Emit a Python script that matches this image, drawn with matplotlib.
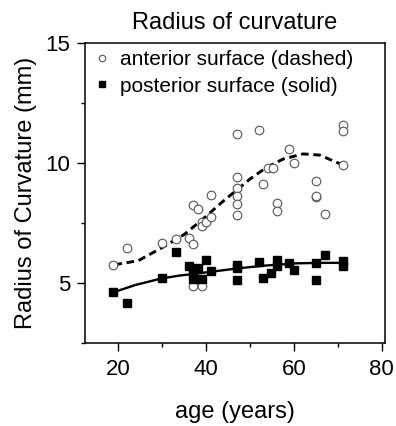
import numpy as np
import matplotlib
matplotlib.use("Agg")
import matplotlib.pyplot as plt
from matplotlib.ticker import MultipleLocator

plt.rcParams['font.family'] = ['Liberation Sans', 'DejaVu Sans']

# anterior surface radius (open circles)
ant_age = [18.9, 22.1, 30.1, 33.1, 36.1, 37.1, 37.1, 37.1, 38.1, 39.0, 39.0,
           39.0, 40.0, 41.1, 41.1, 47.0, 47.0, 47.0, 47.0, 47.0, 47.0, 52.0,
           53.0, 54.2, 55.2, 56.1, 56.1, 58.9, 60.1, 65.0, 65.0, 65.0, 67.1,
           71.1, 71.1, 71.1]
ant_r = [5.75, 6.46, 6.67, 6.83, 6.88, 6.63, 8.25, 4.89, 8.08, 7.55, 7.39,
         4.89, 7.53, 7.74, 8.67, 11.2, 9.43, 8.96, 8.62, 8.29, 7.85, 11.38,
         9.11, 9.78, 9.78, 8.33, 8.01, 10.6, 10.0, 9.26, 8.6, 8.64, 7.87,
         11.58, 11.32, 9.92]

# posterior surface radius (filled squares)
post_age = [18.9, 22.1, 30.1, 33.1, 36.1, 37.1, 38.1, 37.1, 39.0, 40.0, 41.1,
            47.0, 47.0, 47.0, 52.0, 53.0, 54.9, 56.1, 56.1, 58.9, 60.1, 65.0,
            65.0, 67.1, 71.1, 71.1]
post_r = [4.64, 4.17, 5.22, 6.3, 5.69, 5.44, 5.61, 5.17, 5.17, 5.96, 5.51,
          5.75, 5.61, 5.14, 5.86, 5.21, 5.42, 5.96, 5.69, 5.82, 5.55, 5.83,
          5.13, 6.15, 5.93, 5.69]

# fitted curves
ant_fit_age = [19.2, 24.6, 30.3, 35.2, 39.8, 43.6, 47.3, 50.0, 53.8, 57.6,
               62.1, 65.9, 69.7, 71.1]
ant_fit_r = [5.76, 5.93, 6.5, 7.04, 7.74, 8.36, 8.92, 9.33, 9.82, 10.17,
             10.38, 10.33, 10.03, 9.93]
post_fit_age = [18.9, 24.0, 29.9, 34.0, 38.2, 42.5, 47.3, 53.0, 60.6, 66.0, 71.2]
post_fit_r = [4.61, 4.92, 5.19, 5.31, 5.40, 5.50, 5.61, 5.72, 5.82, 5.84, 5.84]

fig = plt.figure(figsize=(3.96, 4.26), dpi=100)
ax = fig.add_axes([0.2146, 0.1948, 0.7574, 0.7042])

ax.plot(ant_fit_age, ant_fit_r, color='black', lw=2.1, ls=(0, (2.6, 1.6)), zorder=2)
ax.plot(post_fit_age, post_fit_r, color='black', lw=1.7, zorder=2)
ax.plot(ant_age, ant_r, 'o', ms=6.2, mfc='white', mec='#555555', mew=0.8,
        label='anterior surface (dashed)', zorder=3)
ax.plot(post_age, post_r, 's', ms=5.8, color='black',
        label='posterior surface (solid)', zorder=4)

ax.set_xlim(12.5, 80.7)
ax.set_ylim(2.5, 15)
ax.xaxis.set_major_locator(MultipleLocator(20))
ax.xaxis.set_minor_locator(MultipleLocator(10))
ax.yaxis.set_major_locator(MultipleLocator(5))
ax.yaxis.set_minor_locator(MultipleLocator(2.5))
ax.tick_params(which='major', direction='out', length=5.5, width=1.0, labelsize=16)
ax.tick_params(axis='x', which='major', pad=6)
ax.tick_params(axis='y', which='major', pad=5)
ax.tick_params(which='minor', direction='out', length=3, width=1.0)
ax.tick_params(top=False, right=False, which='both')
for s in ax.spines.values():
    s.set_linewidth(1.1)

ax.set_xlabel('age (years)', fontsize=17, labelpad=15)
ax.set_ylabel('Radius of Curvature (mm)', fontsize=17, labelpad=6)
ax.set_title('Radius of curvature', fontsize=17, pad=10)

ax.legend(loc='upper left', frameon=False, fontsize=15, markerscale=0.75,
          handlelength=0.8, handletextpad=0.45, borderaxespad=0.1,
          labelspacing=0.35, bbox_to_anchor=(-0.005, 1.01))

fig.savefig('out.png', dpi=100)
